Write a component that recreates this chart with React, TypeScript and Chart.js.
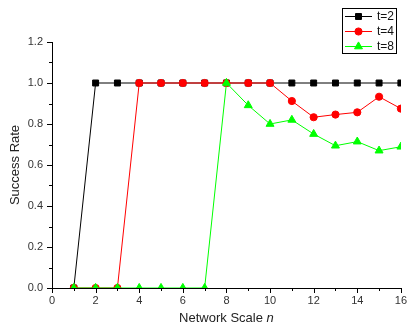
import React, { useEffect, useRef } from "react";
import { Chart, registerables } from "chart.js";

Chart.register(...registerables);

const nValues = [1, 2, 3, 4, 5, 6, 7, 8, 9, 10, 11, 12, 13, 14, 15, 16];
const t2Values = [0, 1, 1, 1, 1, 1, 1, 1, 1, 1, 1, 1, 1, 1, 1, 1];
const t4Values = [0, 0, 0, 1, 1, 1, 1, 1, 1, 1, 0.912, 0.833, 0.846, 0.857, 0.933, 0.875];
const t8Values = [0, 0, 0, 0, 0, 0, 0, 1, 0.891, 0.8, 0.82, 0.751, 0.694, 0.714, 0.67, 0.689];
const seriesLabels = ["t=2", "t=4", "t=8"];
const seriesColors = ["#000000", "#ff0000", "#00ff00"];
const seriesMarkers = ["rect", "circle", "triangle"];
const markerRadius = [4.2, 3.6, 4.6];
const xTickLabels = ["0", "2", "4", "6", "8", "10", "12", "14", "16"];
const yTickLabels = ["0.0", "0.2", "0.4", "0.6", "0.8", "1.0", "1.2"];

const FONT = "'Liberation Sans', Arial, sans-serif";

function drawMarker(ctx: CanvasRenderingContext2D, style: string, r: number, x: number, y: number) {
  ctx.beginPath();
  if (style === "rect") {
    const s = Math.SQRT1_2 * r;
    ctx.rect(x - s, y - s, 2 * s, 2 * s);
  } else if (style === "circle") {
    ctx.arc(x, y, r, 0, Math.PI * 2);
  } else {
    const h = 1.5 * r;
    const w = Math.sqrt(3) * r / 2;
    ctx.moveTo(x, y - r);
    ctx.lineTo(x + w, y + r / 2);
    ctx.lineTo(x - w, y + r / 2);
    ctx.closePath();
    void h;
  }
  ctx.fill();
  ctx.stroke();
}

const decorPlugin = {
  id: "decor",
  afterDraw(chart: any) {
    const ctx = chart.ctx as CanvasRenderingContext2D;
    const xs = chart.scales.x;
    const ys = chart.scales.y;
    const area = chart.chartArea;
    ctx.save();
    ctx.strokeStyle = "#000";
    ctx.lineWidth = 1;
    for (let v = 0; v <= 16; v++) {
      const px = Math.round(xs.getPixelForValue(v)) + 0.5;
      const len = v % 2 === 0 ? 5 : 3;
      ctx.beginPath();
      ctx.moveTo(px, area.bottom);
      ctx.lineTo(px, area.bottom + len);
      ctx.stroke();
    }
    for (let i = 0; i <= 12; i++) {
      const v = i / 10;
      const py = Math.round(ys.getPixelForValue(v)) + 0.5;
      const len = i % 2 === 0 ? 5 : 3;
      ctx.beginPath();
      ctx.moveTo(area.left, py);
      ctx.lineTo(area.left - len, py);
      ctx.stroke();
    }
    ctx.fillStyle = "#222";
    ctx.textBaseline = "middle";
    const cx = (area.left + area.right) / 2;
    const t1 = "Network Scale ";
    const t2 = "n";
    ctx.font = `13px ${FONT}`;
    const w1 = ctx.measureText(t1).width;
    ctx.font = `italic 13px ${FONT}`;
    const w2 = ctx.measureText(t2).width;
    const startX = cx - (w1 + w2) / 2;
    ctx.textAlign = "left";
    ctx.font = `13px ${FONT}`;
    ctx.fillText(t1, startX, 318);
    ctx.font = `italic 13px ${FONT}`;
    ctx.fillText(t2, startX + w1, 318);

    ctx.save();
    ctx.translate(15, (area.top + area.bottom) / 2);
    ctx.rotate(-Math.PI / 2);
    ctx.textAlign = "center";
    ctx.font = `13px ${FONT}`;
    ctx.fillText("Success Rate", 0, 0);
    ctx.restore();

    const bx = 342, by = 8, bw = 54, bh = 45;
    ctx.strokeStyle = "#000";
    ctx.lineWidth = 1;
    ctx.strokeRect(bx + 0.5, by + 0.5, bw, bh);
    const rows = [16, 31, 46];
    for (let i = 0; i < 3; i++) {
      const y = rows[i];
      ctx.strokeStyle = seriesColors[i];
      ctx.lineWidth = 1;
      ctx.beginPath();
      ctx.moveTo(345, y + 0.5);
      ctx.lineTo(372, y + 0.5);
      ctx.stroke();
      ctx.fillStyle = seriesColors[i];
      drawMarker(ctx, seriesMarkers[i], markerRadius[i], 358.5, y + 0.5);
      ctx.fillStyle = "#111";
      ctx.font = `12px ${FONT}`;
      ctx.textAlign = "left";
      ctx.textBaseline = "middle";
      ctx.fillText(seriesLabels[i], 377, y + 1);
    }
    ctx.restore();
  },
};

export default function App() {
  const ref = useRef<HTMLCanvasElement | null>(null);
  useEffect(() => {
    if (!ref.current) return;
    const all = [t2Values, t4Values, t8Values];
    const chart = new Chart(ref.current, {
      type: "line",
      data: {
        datasets: all.map((vals, i) => ({
          label: seriesLabels[i],
          data: nValues.map((n, j) => ({ x: n, y: vals[j] })),
          borderColor: seriesColors[i],
          backgroundColor: seriesColors[i],
          pointBackgroundColor: seriesColors[i],
          pointBorderColor: seriesColors[i],
          pointStyle: seriesMarkers[i] as any,
          pointRadius: markerRadius[i],
          pointBorderWidth: 1,
          borderWidth: 1,
          tension: 0,
          fill: false,
          order: 3 - i,
        })),
      },
      options: {
        animation: false,
        responsive: false,
        maintainAspectRatio: false,
        layout: { padding: { top: 42, right: 6, left: 0, bottom: 0 } },
        plugins: { legend: { display: false }, tooltip: { enabled: false } },
        scales: {
          x: {
            type: "linear",
            min: 0,
            max: 16,
            afterFit: (s: any) => { s.height = 38; },
            afterBuildTicks: (s: any) => {
              s.ticks = xTickLabels.map((t) => ({ value: Number(t) }));
            },
            ticks: {
              callback: (v: any) => String(v),
              color: "#333",
              font: { family: FONT, size: 11 },
              padding: 6,
              maxRotation: 0,
              autoSkip: false,
            },
            grid: { display: true, drawOnChartArea: false, drawTicks: false },
            border: { display: true, color: "#000", width: 1 },
          },
          y: {
            type: "linear",
            min: 0,
            max: 1.2,
            afterFit: (s: any) => { s.width = 52; },
            afterBuildTicks: (s: any) => {
              s.ticks = yTickLabels.map((t) => ({ value: Number(t) }));
            },
            ticks: {
              callback: (v: any) => Number(v).toFixed(1),
              color: "#333",
              font: { family: FONT, size: 11 },
              padding: 9,
              autoSkip: false,
            },
            grid: { display: true, drawOnChartArea: false, drawTicks: false },
            border: { display: true, color: "#000", width: 1 },
          },
        },
      },
      plugins: [decorPlugin],
    });
    return () => chart.destroy();
  }, []);
  return (
    <div style={{ position: "fixed", left: 0, top: 0, width: 413, height: 326, background: "#fff" }}>
      <canvas ref={ref} width={413} height={326} style={{ width: 413, height: 326 }} />
    </div>
  );
}
